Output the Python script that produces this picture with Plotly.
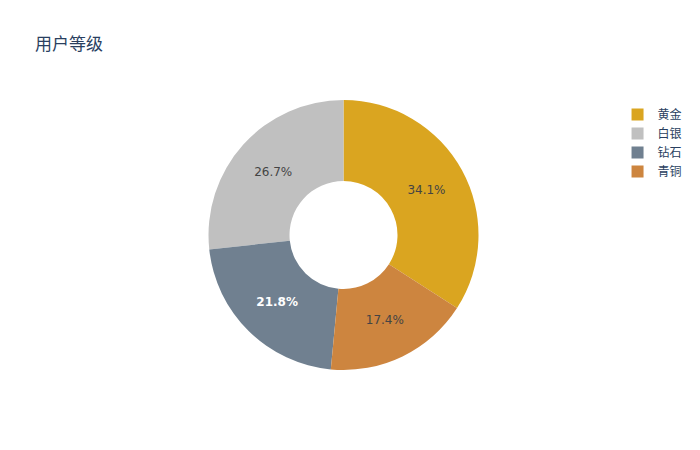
import plotly.graph_objects as go

labels = ["黄金", "白银", "钻石", "青铜"]
values = [34.1, 26.7, 21.8, 17.4]
colors = ["#DAA520", "#C0C0C0", "#708090", "#CD853F"]
text_weights = ["normal", "normal", "bold", "normal"]

fig = go.Figure(go.Pie(
    labels=labels,
    values=values,
    hole=0.4,
    marker=dict(colors=colors),
    textinfo="percent",
    textfont=dict(weight=text_weights),
))
fig.update_layout(
    title=dict(text="用户等级"),
    width=700,
    height=450,
    font=dict(family="DejaVu Sans, Noto Sans CJK SC, sans-serif"),
)
fig.write_html(
    "out.html",
    config={"displayModeBar": False},
    post_script="document.body.style.margin='0';",
)
